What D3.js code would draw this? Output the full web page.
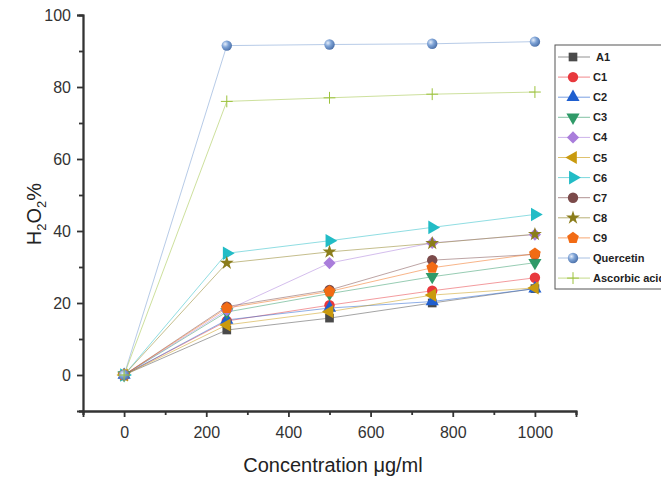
<!DOCTYPE html>
<html>
<head>
<meta charset="utf-8">
<script src="https://cdn.jsdelivr.net/npm/d3@7"></script>
<style>
  body { margin: 0; background: #fff; }
  svg { display: block; font-family: Arial, "Liberation Sans", sans-serif; }
</style>
</head>
<body>
<svg id="chart" width="661" height="479"></svg>
<script>
// concentrations (µg/ml)
var concentrations = [0, 250, 500, 750, 1000];

var seriesNames = ['A1', 'C1', 'C2', 'C3', 'C4', 'C5', 'C6', 'C7', 'C8', 'C9', 'Quercetin', 'Ascorbic acid'];

// H2O2 % scavenging
var A1 = [0, 12.5, 15.8, 20.0, 24.0];
var C1 = [0, 15.0, 19.4, 23.4, 27.0];
var C2 = [0, 15.3, 18.6, 20.4, 24.0];
var C3 = [0, 17.5, 22.6, 27.3, 31.2];
var C4 = [0, 18.0, 31.1, 36.7, 39.0];
var C5 = [0, 13.9, 17.6, 22.2, 24.2];
var C6 = [0, 33.8, 37.3, 41.0, 44.6];
var C7 = [0, 19.0, 23.6, 31.9, 33.5];
var C8 = [0, 31.1, 34.2, 36.6, 39.1];
var C9 = [0, 18.6, 23.2, 29.8, 33.7];
var Quercetin = [0, 91.5, 91.8, 92.0, 92.6];
var Ascorbic = [0, 76.0, 77.0, 78.0, 78.6];

var allValues = [A1, C1, C2, C3, C4, C5, C6, C7, C8, C9, Quercetin, Ascorbic];

var xMajorTicks = [0, 200, 400, 600, 800, 1000];
var xMinorTicks = [-100, 100, 300, 500, 700, 900, 1100];
var yMajorTicks = [0, 20, 40, 60, 80, 100];
var yMinorTicks = [-10, 10, 30, 50, 70, 90];

var colors = ['#4a4a4a', '#e8383d', '#1f5fcf', '#2f9a68', '#a97ddb', '#c99a0e',
              '#22bcc6', '#7b4a4a', '#8b7d1c', '#f26b14', '#6f97cf', '#9cc23c'];

// custom marker shapes
var pentagon = {
    draw: function(ctx, size){
        var r = Math.sqrt(size / 2.38);
        for(var i = 0; i < 5; i++){
            var a = -Math.PI / 2 + i * 2 * Math.PI / 5;
            if(i == 0) ctx.moveTo(r * Math.cos(a), r * Math.sin(a));
            else ctx.lineTo(r * Math.cos(a), r * Math.sin(a));
        }
        ctx.closePath();
    }
};
var plus = {
    draw: function(ctx, size){
        var r = Math.sqrt(size) / 2;
        ctx.moveTo(-r, 0); ctx.lineTo(r, 0);
        ctx.moveTo(0, -r); ctx.lineTo(0, r);
    }
};

// symbol, rotation
var markers = [
    [d3.symbolSquare, 0], [d3.symbolCircle, 0], [d3.symbolTriangle, 0], [d3.symbolTriangle, 180],
    [d3.symbolDiamond2, 0], [d3.symbolTriangle, -90], [d3.symbolTriangle, 90], [d3.symbolCircle, 0],
    [d3.symbolStar, 0], [pentagon, 0], [d3.symbolCircle, 0], [plus, 0]
];
var markerSizes = [75, 85, 75, 75, 95, 75, 80, 85, 60, 90, 85, 140];

var svg = d3.select('#chart');

var xScale = d3.scaleLinear().domain([-100, 1100]).range([83, 576]);
var yScale = d3.scaleLinear().domain([-10, 100]).range([411, 15]);

// gradient for the quercetin ball
var grad = svg.append('defs').append('radialGradient')
    .attr('id', 'ball').attr('cx', '35%').attr('cy', '35%').attr('r', '70%');
grad.append('stop').attr('offset', '0%').attr('stop-color', '#e6eefa');
grad.append('stop').attr('offset', '45%').attr('stop-color', '#7ea3d6');
grad.append('stop').attr('offset', '100%').attr('stop-color', '#4a6fa8');

function fillFor(i){
    if(i == 10) return 'url(#ball)';
    if(i == 11) return 'none';
    return colors[i];
}

// axes
var axisColor = '#333';
var xAxis = d3.axisBottom(xScale).tickValues(xMajorTicks).tickSize(6).tickPadding(10).tickFormat(d3.format('d'));
var xMinor = d3.axisBottom(xScale).tickValues(xMinorTicks).tickSize(4).tickFormat('');
var yAxis = d3.axisLeft(yScale).tickValues(yMajorTicks).tickSize(6).tickPadding(6).tickFormat(d3.format('d'));
var yMinor = d3.axisLeft(yScale).tickValues(yMinorTicks).tickSize(4).tickFormat('');

svg.append('g').attr('class', 'xAxis').attr('transform', 'translate(0,411)').call(xAxis);
svg.append('g').attr('class', 'xAxis').attr('transform', 'translate(0,411)').call(xMinor);
svg.append('g').attr('class', 'yAxis').attr('transform', 'translate(83,0)').call(yAxis);
svg.append('g').attr('class', 'yAxis').attr('transform', 'translate(83,0)').call(yMinor);

svg.selectAll('.xAxis path, .yAxis path, .xAxis line, .yAxis line')
    .attr('stroke', axisColor).attr('stroke-width', 1.8);
svg.selectAll('.xAxis text, .yAxis text')
    .attr('fill', '#333').style('font-size', '16px');

// axis titles
svg.append('text')
    .attr('x', 333).attr('y', 472)
    .attr('text-anchor', 'middle')
    .attr('fill', '#222')
    .style('font-size', '20px')
    .text('Concentration \u03bcg/ml');

var yTitle = svg.append('text')
    .attr('transform', 'translate(41,214) rotate(-90)')
    .attr('text-anchor', 'middle')
    .attr('fill', '#222')
    .style('font-size', '20px');
yTitle.append('tspan').text('H');
yTitle.append('tspan').attr('dy', 5).style('font-size', '13px').text('2');
yTitle.append('tspan').attr('dy', -5).text('O');
yTitle.append('tspan').attr('dy', 5).style('font-size', '13px').text('2');
yTitle.append('tspan').attr('dy', -5).text('%');

// lines
var line = d3.line()
    .x(function(d, i){ return xScale(concentrations[i]); })
    .y(function(d){ return yScale(d); });

svg.append('g').selectAll('path')
    .data(allValues)
    .enter()
    .append('path')
    .attr('d', line)
    .attr('fill', 'none')
    .attr('stroke', function(d, i){ return colors[i]; })
    .attr('stroke-opacity', 0.5)
    .attr('stroke-width', 1);

// markers
allValues.forEach(function(vals, i){
    var sym = d3.symbol().type(markers[i][0]).size(markerSizes[i]);
    svg.append('g').selectAll('path')
        .data(vals)
        .enter()
        .append('path')
        .attr('d', sym)
        .attr('transform', function(d, j){
            return 'translate(' + xScale(concentrations[j]) + ',' + yScale(d) + ') rotate(' + markers[i][1] + ')';
        })
        .attr('fill', fillFor(i))
        .attr('stroke', i == 11 ? colors[i] : 'none')
        .attr('stroke-width', 1);
});

// legend
var legend = svg.append('g');
legend.append('rect')
    .attr('x', 555).attr('y', 45)
    .attr('width', 120).attr('height', 244)
    .attr('fill', '#fff')
    .attr('stroke', '#555')
    .attr('stroke-width', 1);

var rows = legend.selectAll('.row')
    .data(seriesNames)
    .enter()
    .append('g')
    .attr('class', 'row')
    .attr('transform', function(d, i){ return 'translate(0,' + (57 + i * 20.1) + ')'; });

rows.append('line')
    .attr('x1', 558).attr('x2', 590)
    .attr('stroke', function(d, i){ return colors[i]; })
    .attr('stroke-opacity', 0.6)
    .attr('stroke-width', 1);

rows.append('path')
    .attr('d', function(d, i){ return d3.symbol().type(markers[i][0]).size(markerSizes[i])(); })
    .attr('transform', function(d, i){ return 'translate(573,0) rotate(' + markers[i][1] + ')'; })
    .attr('fill', function(d, i){ return fillFor(i); })
    .attr('stroke', function(d, i){ return i == 11 ? colors[i] : 'none'; });

rows.append('text')
    .attr('x', function(d, i){ return i == 0 ? 596 : 593; })
    .attr('y', 4)
    .attr('fill', '#222')
    .style('font-size', '11px')
    .style('font-weight', 'bold')
    .text(function(d){ return d; });
</script>
</body>
</html>
